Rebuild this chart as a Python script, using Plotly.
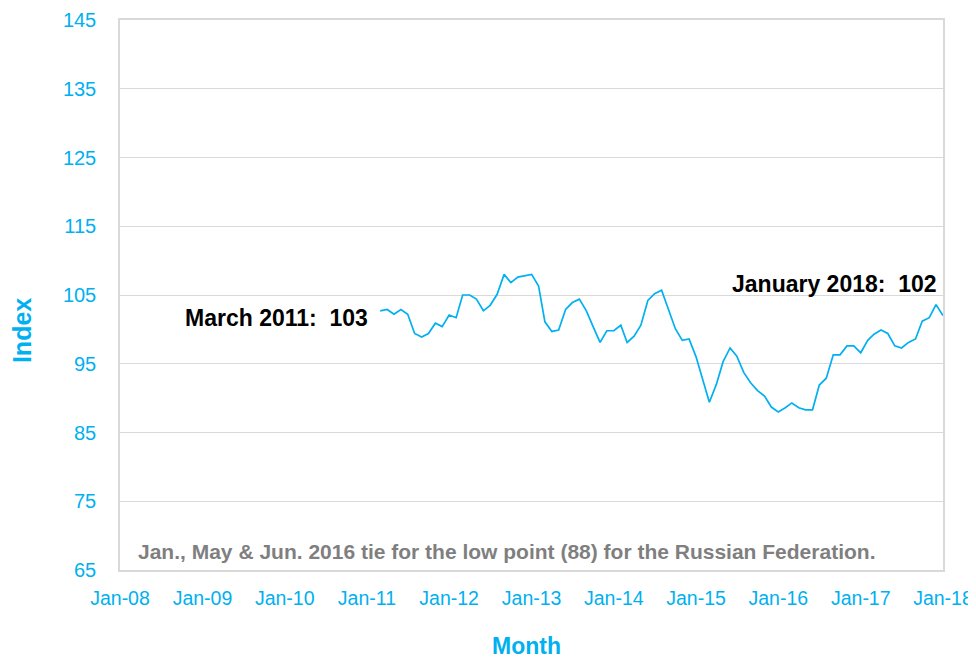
import plotly.graph_objects as go
import pandas as pd

# Monthly index values, March 2011 .. January 2018
start_month = "2011-03-01"
end_month = "2018-01-01"
idx_2011 = [102.7, 102.9, 102.2, 102.9, 102.2, 99.4, 98.9, 99.4, 100.9, 100.4]
idx_2012 = [102.1, 101.7, 105.0, 105.0, 104.4, 102.7, 103.5, 105.1, 108.0, 106.8, 107.6, 107.8]
idx_2013 = [108.0, 106.3, 101.1, 99.7, 99.9, 102.9, 103.9, 104.4, 102.7, 100.4, 98.1, 99.8]
idx_2014 = [99.8, 100.6, 98.1, 99.0, 100.6, 104.2, 105.2, 105.7, 102.9, 100.1, 98.4, 98.6]
idx_2015 = [96.0, 92.7, 89.4, 92.0, 95.3, 97.3, 96.1, 93.7, 92.2, 91.1, 90.3, 88.7]
idx_2016 = [88.0, 88.6, 89.3, 88.6, 88.3, 88.3, 91.9, 92.9, 96.3, 96.3, 97.6, 97.6]
idx_2017 = [96.6, 98.4, 99.3, 99.9, 99.4, 97.6, 97.3, 98.1, 98.6, 101.2, 101.7, 103.6]
idx_2018 = [102.0]

values = idx_2011 + idx_2012 + idx_2013 + idx_2014 + idx_2015 + idx_2016 + idx_2017 + idx_2018
months = pd.date_range(start_month, end_month, freq="MS")

x_range = ["2008-01-01", "2018-01-01 02:00"]
y_range = [65, 145]
x_title = "Month"
y_title = "Index"
start_label = "March 2011:  103"
end_label = "January 2018:  102"
note_text = "Jan., May & Jun. 2016 tie for the low point (88) for the Russian Federation."

BLUE = "#00B0F0"
GRID = "#D9D9D9"
FONT = "Liberation Sans, Arial, sans-serif"

fig = go.Figure()
fig.add_trace(go.Scatter(
    x=months, y=values, mode="lines",
    line=dict(color=BLUE, width=1.7),
    showlegend=False,
))

# the page body adds an 8px offset, so the figure is 8px smaller
fig.update_layout(
    width=968, height=650,
    margin=dict(l=112, r=33, t=12, b=88),
    plot_bgcolor="white", paper_bgcolor="white",
    font=dict(family=FONT, color=BLUE),
    xaxis=dict(
        type="date", range=x_range, dtick="M12", tick0="2008-01-01",
        tickformat="%b-%y", showgrid=False, zeroline=False,
        showline=True, mirror=True, linecolor=GRID, linewidth=1.5,
        tickfont=dict(size=19.5, color=BLUE), ticklabelstandoff=10,
        ticklabeloverflow="allow", automargin=False,
    ),
    yaxis=dict(
        range=y_range, dtick=10, tick0=65,
        showgrid=True, gridcolor=GRID, gridwidth=1.3, zeroline=False,
        showline=True, mirror=True, linecolor=GRID, linewidth=1.5,
        tickfont=dict(size=20, color=BLUE), ticklabelstandoff=18,
        ticklabeloverflow="allow", automargin=False,
    ),
)

# axis titles
fig.add_annotation(
    x=0.4945, y=-0.138, xref="paper", yref="paper",
    text="<b>" + x_title + "</b>", showarrow=False,
    xanchor="center", yanchor="middle",
    font=dict(size=23, color=BLUE, family=FONT),
)
fig.add_annotation(
    x=-0.119, y=0.4345, xref="paper", yref="paper",
    text="<b>" + y_title + "</b>", showarrow=False, textangle=-90,
    xanchor="center", yanchor="middle",
    font=dict(size=25, color=BLUE, family=FONT),
)

fig.add_annotation(
    x=months[0], y=values[0], xref="x", yref="y",
    text="<b>" + start_label + "</b>", showarrow=False,
    xanchor="right", yanchor="middle", xshift=-10, yshift=-7,
    font=dict(size=23, color="black", family=FONT),
)
fig.add_annotation(
    x=months[-1], y=values[-1], xref="x", yref="y",
    text="<b>" + end_label + "</b>", showarrow=False,
    xanchor="right", yanchor="middle", xshift=-4, yshift=32,
    font=dict(size=23, color="black", family=FONT),
)
fig.add_annotation(
    x=0.02, y=0.033, xref="paper", yref="paper",
    text="<b>" + note_text + "</b>", showarrow=False,
    xanchor="left", yanchor="middle",
    font=dict(size=21, color="#7F7F7F", family=FONT),
)

fig.write_html("out.html")
